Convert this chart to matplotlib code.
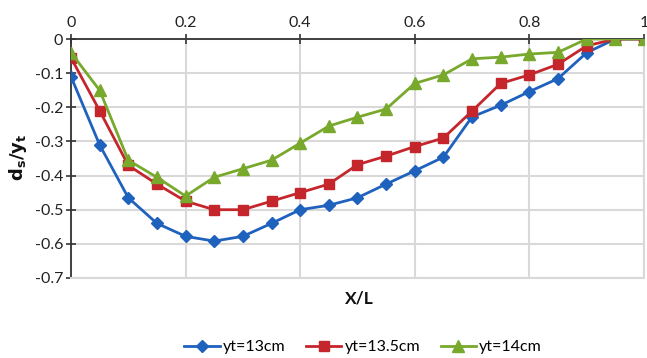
import matplotlib
matplotlib.use("Agg")
import matplotlib.pyplot as plt

# Relative distance along the reach
x_over_l = [0.00, 0.05, 0.10, 0.15, 0.20, 0.25, 0.30, 0.35, 0.40, 0.45, 0.50,
            0.55, 0.60, 0.65, 0.70, 0.75, 0.80, 0.85, 0.90, 0.95, 1.00]

# Relative scour depth ds/yt for each tailwater depth
yt_13 = [-0.110, -0.310, -0.465, -0.540, -0.578, -0.592, -0.578, -0.540, -0.500, -0.487, -0.465,
         -0.425, -0.386, -0.346, -0.228, -0.194, -0.154, -0.116, -0.040, 0.000, 0.000]
yt_13_5 = [-0.055, -0.210, -0.370, -0.425, -0.475, -0.500, -0.500, -0.475, -0.450, -0.425, -0.368,
           -0.343, -0.315, -0.290, -0.211, -0.130, -0.105, -0.074, -0.020, 0.000, 0.000]
yt_14 = [-0.040, -0.150, -0.355, -0.405, -0.460, -0.405, -0.380, -0.355, -0.305, -0.255, -0.229,
         -0.205, -0.130, -0.105, -0.058, -0.053, -0.044, -0.039, 0.000, 0.000, 0.000]

labels = ["yt=13cm", "yt=13.5cm", "yt=14cm"]
x_ticks = [0, 0.2, 0.4, 0.6, 0.8, 1]
x_tick_labels = ["0", "0.2", "0.4", "0.6", "0.8", "1"]
y_ticks = [0, -0.1, -0.2, -0.3, -0.4, -0.5, -0.6, -0.7]
y_tick_labels = ["0", "-0.1", "-0.2", "-0.3", "-0.4", "-0.5", "-0.6", "-0.7"]

plt.rcParams["font.family"] = ["Lato", "DejaVu Sans"]

fig = plt.figure(figsize=(6.47, 3.58), dpi=100)
ax = fig.add_axes([0.1097, 0.2235, 0.8856, 0.6675])

styles = [
    dict(color="#1F62BE", marker="D", markersize=6),
    dict(color="#C4262C", marker="s", markersize=7.5),
    dict(color="#78A92C", marker="^", markersize=8),
]
for series, lab, st in zip([yt_13, yt_13_5, yt_14], labels, styles):
    ax.plot(x_over_l, series, label=lab, linewidth=2, zorder=3, **st)

ax.set_xlim(0, 1)
ax.set_ylim(-0.7, 0)
ax.set_xticks(x_ticks)
ax.set_xticklabels(x_tick_labels)
ax.set_yticks(y_ticks)
ax.set_yticklabels(y_tick_labels)
ax.xaxis.tick_top()
ax.tick_params(axis="x", direction="inout", length=7, width=1.2, color="#333333",
               labelsize=11.5, pad=3, labelcolor="#222222")
ax.tick_params(axis="y", direction="inout", length=7, width=1.2, color="#333333",
               labelsize=11.5, pad=2, labelcolor="#222222")

ax.grid(True, color="#D9D9D9", linewidth=1.5, zorder=0)
ax.set_axisbelow(True)
for side in ("right", "bottom"):
    ax.spines[side].set_color("#D9D9D9")
    ax.spines[side].set_linewidth(1.5)
for side in ("left", "top"):
    ax.spines[side].set_color("#333333")
    ax.spines[side].set_linewidth(1.3)

fig.text(0.028, 0.56, r"$\mathbf{d_s/y_t}$", rotation=90, ha="center", va="center",
         fontsize=13, color="#111111")
fig.text(0.555, 0.165, "X/L", ha="center", va="center", fontsize=12.5,
         fontweight="bold", color="#111111")

ax.legend(loc="center", bbox_to_anchor=(0.51, -0.29), ncol=3, frameon=False,
          fontsize=11.5, handlelength=2.2, columnspacing=1.3, handletextpad=0.2)

fig.savefig("out.png", dpi=100)
